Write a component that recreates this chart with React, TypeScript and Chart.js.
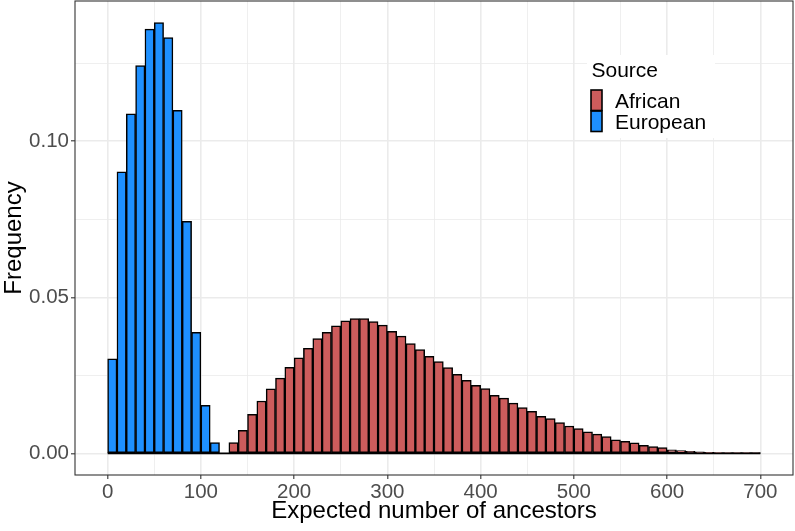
import { useEffect, useRef } from "react";
import { Chart, registerables } from "chart.js";

Chart.register(...registerables);

// ---- Data (histogram bins, width 10) ----
const BIN_WIDTH = 10;
const europeanBinStarts = [0, 10, 20, 30, 40, 50, 60, 70, 80, 90, 100, 110];
const europeanFreq = [0.0303, 0.0902, 0.1088, 0.1242, 0.1359, 0.138, 0.1332, 0.1099, 0.0743, 0.0388, 0.0154, 0.0035];

const africanBinStarts = [
  130, 140, 150, 160, 170, 180, 190, 200, 210, 220,
  230, 240, 250, 260, 270, 280, 290, 300, 310, 320,
  330, 340, 350, 360, 370, 380, 390, 400, 410, 420,
  430, 440, 450, 460, 470, 480, 490, 500, 510, 520,
  530, 540, 550, 560, 570, 580, 590, 600, 610, 620,
  630, 640, 650, 660, 670, 680, 690,
];
const africanFreq = [
  0.0035, 0.0074, 0.0125, 0.0168, 0.0207, 0.0241, 0.0276, 0.0306, 0.0337, 0.0368,
  0.0388, 0.0409, 0.0425, 0.0432, 0.0432, 0.0422, 0.0411, 0.0391, 0.0376, 0.0352,
  0.0333, 0.0311, 0.0294, 0.0275, 0.0253, 0.0234, 0.0218, 0.0208, 0.0186, 0.0177,
  0.0161, 0.0147, 0.0135, 0.0119, 0.0112, 0.0099, 0.0088, 0.0080, 0.0069, 0.0062,
  0.0054, 0.0044, 0.0039, 0.0034, 0.0026, 0.0022, 0.0019, 0.0012, 0.0009, 0.0007,
  0.0005, 0.0004, 0.0003, 0.0002, 0.0001, 0.0001, 0.00005,
];

const seriesNames = ["African", "European"];
const seriesColors = ["#CD5C5C", "#1E90FF"];
const legendTitle = "Source";

const xGridValues = [0, 50, 100, 150, 200, 250, 300, 350, 400, 450, 500, 550, 600, 650, 700];
const xTickValues = [0, 100, 200, 300, 400, 500, 600, 700];
const xTickLabels = ["0", "100", "200", "300", "400", "500", "600", "700"];
const yGridValues = [0, 0.025, 0.05, 0.075, 0.1, 0.125];
const yTickValues = [0, 0.05, 0.1];
const yTickLabels = ["0.00", "0.05", "0.10"];

const xTitle = "Expected number of ancestors";
const yTitle = "Frequency";

const FONT = "'Liberation Sans', Arial, Helvetica, sans-serif";
const GRID = "#EBEBEB";

function isMajor(list: number[], v: number) {
  return list.some((m) => Math.abs(m - v) < 1e-9);
}

const panelAndLegend = {
  id: "panelAndLegend",
  afterDraw(chart: any) {
    const ctx = chart.ctx as CanvasRenderingContext2D;
    const a = chart.chartArea;
    ctx.save();
    // legend box (inside panel, covers grid)
    const lx = a.left + 512;
    const ly = a.top + 54;
    ctx.fillStyle = "#ffffff";
    ctx.fillRect(lx, ly, 128, 83);
    ctx.fillStyle = "#000000";
    ctx.font = `21px ${FONT}`;
    ctx.textBaseline = "alphabetic";
    ctx.textAlign = "left";
    ctx.fillText(legendTitle, lx + 4.5, ly + 22);
    const keyX = lx + 4;
    const keyW = 11;
    const keyTops = [ly + 35, ly + 56];
    const keyH = 20.5;
    seriesNames.forEach((name, i) => {
      ctx.fillStyle = seriesColors[i];
      ctx.fillRect(keyX, keyTops[i], keyW, keyH);
    });
    ctx.strokeStyle = "#000";
    ctx.lineWidth = 1.6;
    seriesNames.forEach((name, i) => {
      ctx.strokeRect(keyX, keyTops[i], keyW, keyH);
    });
    ctx.fillStyle = "#000";
    ctx.font = `21px ${FONT}`;
    ctx.fillText(seriesNames[0], lx + 28, ly + 53.3);
    ctx.fillText(seriesNames[1], lx + 28, ly + 73.5);
    // panel border
    ctx.strokeStyle = "#333333";
    ctx.lineWidth = 1.1;
    ctx.strokeRect(a.left, a.top, a.right - a.left, a.bottom - a.top);
    ctx.restore();
  },
};

export default function App() {
  const ref = useRef<HTMLCanvasElement | null>(null);

  useEffect(() => {
    if (!ref.current) return;
    const african = africanBinStarts.map((b, i) => ({ x: b + BIN_WIDTH / 2, y: africanFreq[i] }));
    const european = europeanBinStarts.map((b, i) => ({ x: b + BIN_WIDTH / 2, y: europeanFreq[i] }));

    const barCommon = {
      type: "bar" as const,
      borderColor: "#000000",
      borderWidth: 1.5,
      borderSkipped: false,
      grouped: false,
      barPercentage: 1,
      categoryPercentage: 1,
      order: 1,
    };

    const chart = new Chart(ref.current, {
      type: "bar",
      data: {
        datasets: [
          { ...barCommon, label: seriesNames[0], data: african, backgroundColor: seriesColors[0] } as any,
          { ...barCommon, label: seriesNames[1], data: european, backgroundColor: seriesColors[1] } as any,
          {
            type: "line",
            label: "baseline",
            data: [
              { x: 0, y: 0 },
              { x: 700, y: 0 },
            ],
            borderColor: "#000000",
            borderWidth: 1.8,
            pointRadius: 0,
            order: 0,
          } as any,
        ],
      },
      options: {
        animation: false,
        responsive: true,
        maintainAspectRatio: false,
        layout: { padding: { top: 1, right: 2, left: 0, bottom: 0 } },
        plugins: { legend: { display: false }, tooltip: { enabled: false } },
        scales: {
          x: {
            type: "linear",
            offset: false,
            min: -35,
            max: 735,
            afterBuildTicks: (s: any) => {
              s.ticks = xGridValues.map((v) => ({ value: v }));
            },
            afterFit: (s: any) => {
              s.height = 56;
              s.paddingLeft = 0;
              s.paddingRight = 0;
            },
            border: { display: false },
            grid: {
              offset: false,
              color: GRID,
              lineWidth: (c: any) => (isMajor(xTickValues, c.tick?.value) ? 1.6 : 0.8),
              tickColor: (c: any) => (isMajor(xTickValues, c.tick?.value) ? "#333333" : "rgba(0,0,0,0)"),
              tickLength: 4,
              tickWidth: 1.1,
            },
            ticks: {
              autoSkip: false,
              maxRotation: 0,
              padding: 1,
              color: "#4D4D4D",
              font: { family: FONT, size: 20.5 },
              callback: (v: any) => {
                const i = xTickValues.findIndex((m) => Math.abs(m - v) < 1e-9);
                return i >= 0 ? xTickLabels[i] : "";
              },
            },
            title: {
              display: true,
              text: xTitle,
              color: "#000000",
              font: { family: FONT, size: 24 },
              padding: { top: 0, bottom: 5 },
            },
          },
          y: {
            type: "linear",
            offset: false,
            min: -0.0069,
            max: 0.1449,
            afterBuildTicks: (s: any) => {
              s.ticks = yGridValues.map((v) => ({ value: v }));
            },
            afterFit: (s: any) => {
              s.width = 75;
              s.paddingTop = 0;
              s.paddingBottom = 0;
            },
            border: { display: false },
            grid: {
              offset: false,
              color: GRID,
              lineWidth: (c: any) => (isMajor(yTickValues, c.tick?.value) ? 1.6 : 0.8),
              tickColor: (c: any) => (isMajor(yTickValues, c.tick?.value) ? "#333333" : "rgba(0,0,0,0)"),
              tickLength: 4,
              tickWidth: 1.1,
            },
            ticks: {
              autoSkip: false,
              padding: 2,
              color: "#4D4D4D",
              font: { family: FONT, size: 20.5 },
              callback: (v: any) => {
                const i = yTickValues.findIndex((m) => Math.abs(m - v) < 1e-9);
                return i >= 0 ? yTickLabels[i] : "";
              },
            },
            title: {
              display: true,
              text: yTitle,
              color: "#000000",
              font: { family: FONT, size: 24 },
              padding: { top: 0, bottom: 0 },
            },
          },
        },
      },
      plugins: [panelAndLegend],
    } as any);

    return () => chart.destroy();
  }, []);

  return (
    <div style={{ position: "fixed", left: 0, top: 0, width: 795, height: 531, background: "#ffffff" }}>
      <canvas ref={ref} />
    </div>
  );
}
